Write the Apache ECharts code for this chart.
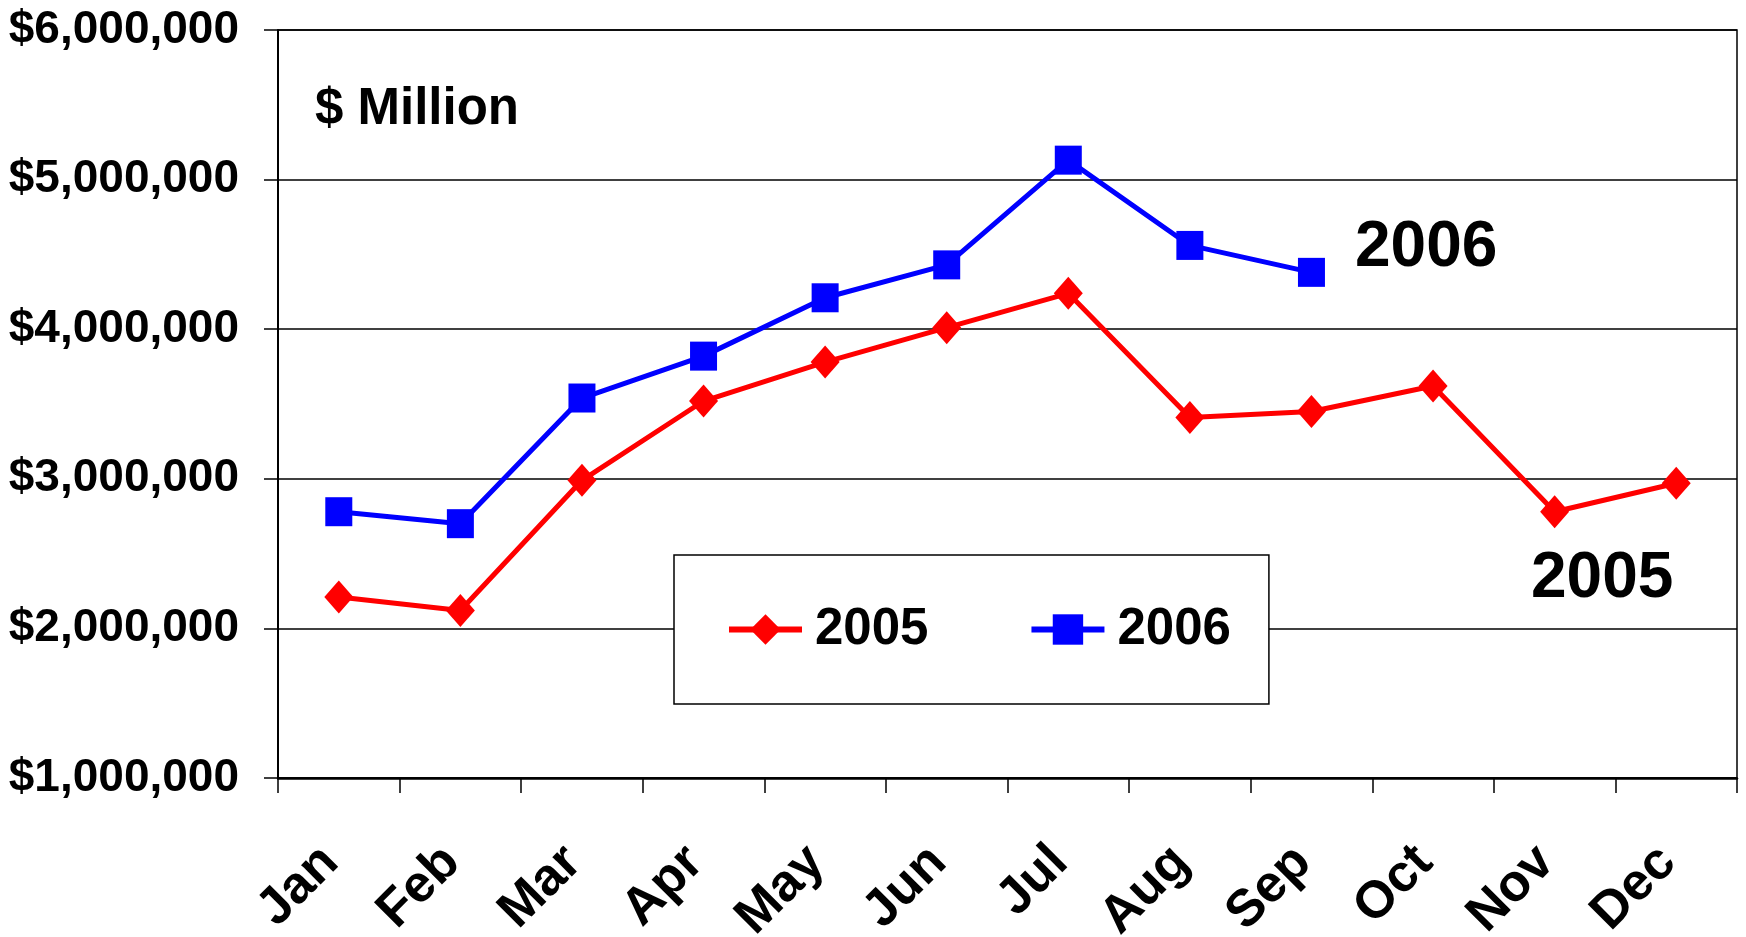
<!DOCTYPE html>
<html>
<head>
<meta charset="utf-8">
<script src="https://cdn.jsdelivr.net/npm/echarts@6/dist/echarts.min.js"></script>
<style>
html,body{margin:0;padding:0;background:#fff;}
#chart{width:1746px;height:937px;}
</style>
</head>
<body>
<div id="chart"></div>
<script>
const months = ['Jan','Feb','Mar','Apr','May','Jun','Jul','Aug','Sep','Oct','Nov','Dec'];
const sales2005 = [2210000, 2120000, 2990000, 3520000, 3780000, 4010000, 4240000, 3410000, 3450000, 3620000, 2780000, 2970000];
const sales2006 = [2780000, 2700000, 3540000, 3820000, 4210000, 4430000, 5130000, 4560000, 4380000];
const yTicks = {min: 1000000, max: 6000000, interval: 1000000};
const seriesNames = ['2005', '2006'];

const SANS = '"Liberation Sans", Arial, Helvetica, sans-serif';

const chart = echarts.init(document.getElementById('chart'));
chart.setOption({
  animation: false,
  backgroundColor: '#fff',
  grid: {left: 278, right: 9, top: 30, bottom: 159, show: true, borderColor: '#000', borderWidth: 1.5,
         containLabel: false, outerBoundsMode: 'none'},
  legend: {
    left: 674, top: 555,
    orient: 'horizontal',
    data: seriesNames,
    itemWidth: 73, itemHeight: 38, itemGap: 100,
    padding: [49, 38, 49, 52],
    borderColor: '#000', borderWidth: 1.5, backgroundColor: '#fff',
    lineStyle: {width: 6},
    textStyle: {fontFamily: SANS, fontWeight: 'bold', fontSize: 51, color: '#000', padding: [0, 0, 0, 8]}
  },
  xAxis: {
    type: 'category',
    data: months,
    boundaryGap: true,
    axisLine: {lineStyle: {color: '#000', width: 2.5}},
    axisTick: {show: true, length: 15, lineStyle: {color: '#000', width: 1.5}},
    axisLabel: {rotate: 45, margin: 68, padding: [0, 12, 0, 0], fontFamily: SANS, fontWeight: 'bold', fontSize: 52, color: '#000'},
    splitLine: {show: false}
  },
  yAxis: {
    type: 'value',
    min: yTicks.min, max: yTicks.max, interval: yTicks.interval,
    axisLine: {show: true, lineStyle: {color: '#000', width: 2}},
    axisTick: {show: true, length: 14, lineStyle: {color: '#000', width: 1.5}},
    axisLabel: {margin: 39, fontFamily: SANS, fontWeight: 'bold', fontSize: 46, color: '#000',
      formatter: v => '$' + v.toLocaleString('en-US')},
    splitLine: {show: true, lineStyle: {color: '#000', width: 1.5}}
  },
  graphic: [
    {type: 'text', left: 315, top: 84, style: {text: '$ Million', font: 'bold 51px ' + SANS, fill: '#000'}},
    {type: 'text', left: 1355, top: 216, style: {text: '2006', font: 'bold 64px ' + SANS, fill: '#000'}},
    {type: 'text', left: 1531, top: 547, style: {text: '2005', font: 'bold 64px ' + SANS, fill: '#000'}}
  ],
  series: [
    {
      name: seriesNames[0], type: 'line', data: sales2005,
      symbol: 'diamond', symbolSize: [29, 33],
      lineStyle: {color: '#ff0000', width: 5},
      itemStyle: {color: '#ff0000'}
    },
    {
      name: seriesNames[1], type: 'line', data: sales2006,
      symbol: 'rect', symbolSize: [27, 29],
      lineStyle: {color: '#0000ff', width: 5},
      itemStyle: {color: '#0000ff'}
    }
  ]
});
</script>
</body>
</html>
